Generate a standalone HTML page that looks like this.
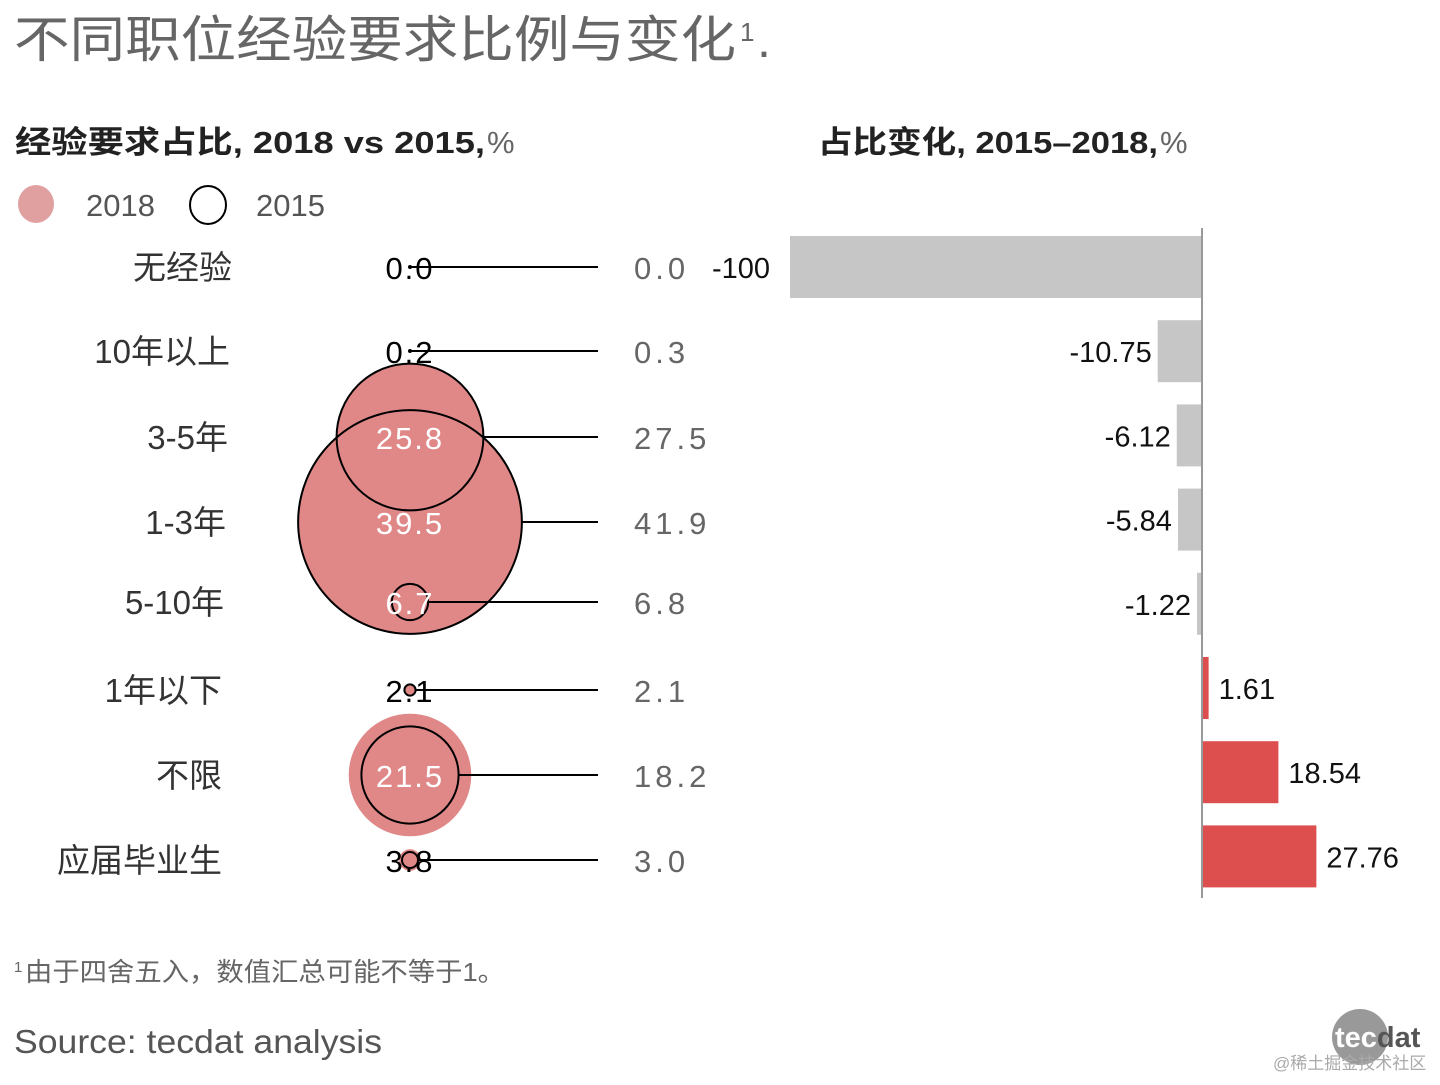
<!DOCTYPE html>
<html><head><meta charset="utf-8"><style>
body{margin:0;background:#fff;width:1440px;height:1080px;overflow:hidden;font-family:"Liberation Sans","Noto Sans CJK SC",sans-serif}
svg text{font-family:"Liberation Sans","Noto Sans CJK SC",sans-serif}
</style></head><body>
<svg id="c" width="1440" height="1080" xmlns="http://www.w3.org/2000/svg">
<text x="14" y="57" font-size="50" fill="#666" textLength="722" lengthAdjust="spacingAndGlyphs">不同职位经验要求比例与变化</text>
<text x="740" y="41" font-size="26" fill="#666">1</text>
<text x="757" y="57" font-size="50" fill="#666">.</text>
<text x="15" y="153" font-size="31" font-weight="bold" fill="#222" textLength="470" lengthAdjust="spacingAndGlyphs">经验要求占比, 2018  vs  2015,</text>
<text x="487" y="153" font-size="31" fill="#666">%</text>
<text x="818" y="153" font-size="31" font-weight="bold" fill="#222" textLength="340" lengthAdjust="spacingAndGlyphs">占比变化, 2015–2018,</text>
<text x="1160" y="153" font-size="31" fill="#666">%</text>
<ellipse cx="36" cy="204" rx="18" ry="19" fill="#e0a0a0"/>
<text x="86" y="216" font-size="31" fill="#555">2018</text>
<ellipse cx="208" cy="205" rx="18" ry="19" fill="none" stroke="#000" stroke-width="2"/>
<text x="256" y="216" font-size="31" fill="#555">2015</text>
<g id="bub"></g><g id="bars"></g>
<text x="14" y="972" font-size="15" fill="#666">1</text>
<text x="25" y="981" font-size="26" fill="#666" textLength="480" lengthAdjust="spacingAndGlyphs">由于四舍五入，数值汇总可能不等于1。</text>
<text x="14" y="1053" font-size="33" fill="#555" textLength="368" lengthAdjust="spacingAndGlyphs">Source: tecdat analysis</text>
<circle cx="1360" cy="1037" r="28" fill="#999"/>
<text x="1335" y="1047" font-size="29" font-weight="bold" fill="#fff">tec<tspan fill="#555">dat</tspan></text>
<text x="1273" y="1069" font-size="17" fill="#aaa">@稀土掘金技术社区</text>
</svg>
<script>
const categories=["无经验","10年以上","3-5年","1-3年","5-10年","1年以下","不限","应届毕业生"];
const share2018=[0.0,0.2,25.8,39.5,6.7,2.1,21.5,3.8];
const share2015=[0.0,0.3,27.5,41.9,6.8,2.1,18.2,3.0];
const change=[-100,-10.75,-6.12,-5.84,-1.22,1.61,18.54,27.76];
const changeLabels=["-100","-10.75","-6.12","-5.84","-1.22","1.61","18.54","27.76"];
const NS="http://www.w3.org/2000/svg";
const rowYL=[267,351,437,522,602,690,775,860];
const labelRight=[232,230,228,226,224,222,222,222];
const rowY=i=>267+i*84.2;
const rFill=v=>v*2.85, rLine=v=>v*2.67;
const xBar=v=>1202+v*4.12;
function mk(t,a,p){const e=document.createElementNS(NS,t);for(const k in a)e.setAttribute(k,a[k]);p.appendChild(e);return e;}
const bub=document.getElementById('bub'), bars=document.getElementById('bars');
const cx=410;
const fg=mk('g',{},bub), lg=mk('g',{},bub), tg=mk('g',{},bub);
categories.forEach((c,i)=>{
  const y=rowYL[i];
  const lab=mk('text',{x:labelRight[i],y:y+12,'font-size':33,fill:'#333','text-anchor':'end'},tg);lab.textContent=c;
  
  
  const f=mk('circle',{cx:cx,cy:y,r:Math.max(rFill(share2018[i]),1.5),fill:'#e08888'},fg);
  
  
  const o=mk('circle',{cx:cx,cy:y,r:Math.max(rLine(share2015[i]),1),fill:'none',stroke:'#000','stroke-width':2},lg);
  
  
  const l=mk('line',{x1:cx+rLine(share2015[i]),y1:y,x2:598,y2:y,stroke:'#000','stroke-width':2},lg);
  
  
  const big=share2018[i]>5;
  const v=mk('text',{x:cx,y:y+12,'font-size':31,fill:big?'#fff':'#000','text-anchor':'middle','letter-spacing':'2'},tg);v.textContent=share2018[i].toFixed(1);
  
  
  const w=mk('text',{x:634,y:y+12,'font-size':31,fill:'#666','letter-spacing':'4'},tg);w.textContent=share2015[i].toFixed(1);
  
  
});
change.forEach((v,i)=>{
  const y=rowY(i);const x0=xBar(0),x1=xBar(v);
  const r=mk('rect',{x:Math.min(x0,x1),y:y-31,width:Math.abs(x1-x0),height:62,fill:v<0?'#c6c6c6':'#dd4f4f'},bars);
  
  
  const lx=v<0?(v<=-50?x1-20:x1-6):x1+10;
  const t=mk('text',{x:lx,y:y+11,'font-size':29,fill:'#111','text-anchor':v<0?'end':'start'},bars);t.textContent=changeLabels[i];
  
  
});
const ax=mk('line',{x1:xBar(0),y1:228,x2:xBar(0),y2:898,stroke:'#999','stroke-width':2},bars);


</script>
</body></html>
